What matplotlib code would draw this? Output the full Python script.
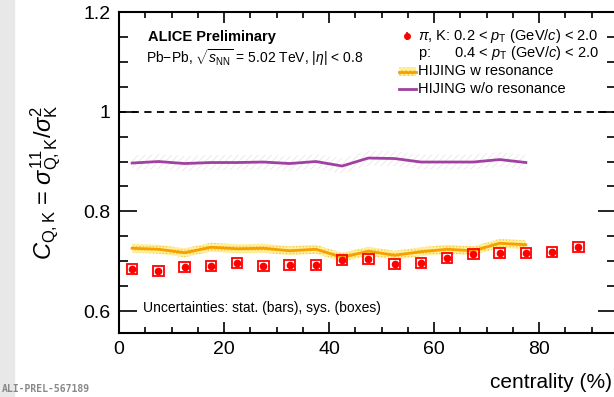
import numpy as np
import matplotlib
matplotlib.use("Agg")
import matplotlib.pyplot as plt
from matplotlib.patches import Rectangle

plt.rcParams['font.family'] = ['Liberation Sans', 'DejaVu Sans']
plt.rcParams['mathtext.fontset'] = 'custom'
plt.rcParams['mathtext.rm'] = 'Liberation Sans'
plt.rcParams['mathtext.it'] = 'Liberation Sans:italic'
plt.rcParams['mathtext.bf'] = 'Liberation Sans:bold'
plt.rcParams['hatch.linewidth'] = 0.6

# data
cent = [2.5, 7.5, 12.5, 17.5, 22.5, 27.5, 32.5, 37.5, 42.5, 47.5,
        52.5, 57.5, 62.5, 67.5, 72.5, 77.5, 82.5, 87.5]
c_data = [0.684, 0.681, 0.689, 0.690, 0.697, 0.691, 0.692, 0.692, 0.702, 0.704,
          0.694, 0.696, 0.706, 0.714, 0.716, 0.717, 0.718, 0.729]
c_stat = [0.004] * 18
c_sys = [0.010] * 18

hij_cent = [2.5, 7.5, 12.5, 17.5, 22.5, 27.5, 32.5, 37.5,
            42.5, 47.5, 52.5, 57.5, 62.5, 67.5, 72.5, 77.5]
hij_res = [0.726, 0.724, 0.717, 0.728, 0.725, 0.726, 0.721, 0.724,
           0.708, 0.720, 0.712, 0.719, 0.724, 0.721, 0.736, 0.733]
hij_res_err = [0.009] * 16
hij_nores = [0.897, 0.900, 0.896, 0.898, 0.898, 0.899, 0.896, 0.900,
             0.891, 0.907, 0.906, 0.899, 0.899, 0.899, 0.904, 0.898]
hij_nores_err = [0.015] * 16

W, H = 614, 397
fig = plt.figure(figsize=(W / 100, H / 100), dpi=100)
ax = fig.add_axes([119 / W, 1 - 333 / H, 497 / W, 321 / H])

def fx(px):
    return px / W

def fy(py):
    return 1 - py / H

# grey shadow strip on the left edge
fig.patches.append(Rectangle((0, 0), 14 / W, 1, transform=fig.transFigure,
                             color='#e8e8e8', zorder=0))

hc = np.array(hij_cent)
hr = np.array(hij_res)
he = np.array(hij_res_err)
hn = np.array(hij_nores)
hne = np.array(hij_nores_err)

ax.fill_between(hc, hn - hne, hn + hne, facecolor='none', edgecolor='#ede4ea',
                hatch='/////', linewidth=0, zorder=1)
ax.plot(hc, hn, color='#a040a0', lw=2, zorder=2)

ax.fill_between(hc, hr - he, hr + he, facecolor='#fff0a0', edgecolor='#f5c842',
                hatch='.....', linewidth=0, zorder=1)
ax.plot(hc, hr, color='#f5a000', lw=2, zorder=2)

ax.axhline(1.0, color='black', ls=(0, (4, 3)), lw=1.3, zorder=1)

for x, y, s in zip(cent, c_data, c_sys):
    ax.add_patch(Rectangle((x - 1.0, y - s), 2.0, 2 * s, facecolor='none',
                           edgecolor='#ff0000', lw=1.3, zorder=3))
ax.errorbar(cent, c_data, yerr=c_stat, fmt='o', color='#ff0000', ms=4.5,
            elinewidth=1, capsize=0, zorder=4)

ax.set_xlim(0, 497 / 5.25)
ax.set_ylim(0.556, 1.2)
ax.set_xticks([0, 20, 40, 60, 80])
ax.set_xticks(np.arange(0, 95, 5), minor=True)
ax.set_yticks([0.6, 0.8, 1.0, 1.2])
ax.set_yticklabels(['0.6', '0.8', '1', '1.2'])
ax.set_yticks(np.arange(0.6, 1.201, 0.05), minor=True)
ax.tick_params(which='both', direction='in', top=True, right=True,
               labelsize=14, width=1.2, pad=6)
ax.tick_params(axis='x', which='major', length=8)
ax.tick_params(axis='x', which='minor', length=4.5)
ax.tick_params(axis='y', which='major', length=13)
ax.tick_params(axis='y', which='minor', length=6.5)
for sp in ax.spines.values():
    sp.set_linewidth(1.5)
ax.spines['right'].set_visible(False)

fig.text(fx(46), fy(182),
         r'$C_{\rm Q,K}$ = $\sigma^{11}_{\rm Q,K}/\sigma^{2}_{\rm K}$',
         rotation=90, fontsize=17, ha='center', va='center')
fig.text(fx(612), fy(383), 'centrality (%)', fontsize=15, ha='right', va='center')

fig.text(fx(148), fy(37), 'ALICE Preliminary', fontsize=10.5,
         fontweight='bold', va='center')
fig.text(fx(146), fy(58),
         r'Pb$-$Pb, $\sqrt{s_{\rm NN}}$ = 5.02 TeV, |$\eta$| < 0.8',
         fontsize=10, va='center')
fig.text(fx(143), fy(308), 'Uncertainties: stat. (bars), sys. (boxes)',
         fontsize=10, va='center')

# legend drawn by hand
lax = fig.add_axes([0, 0, 1, 1], facecolor='none')
lax.set_xlim(0, W)
lax.set_ylim(H, 0)
lax.axis('off')
lax.errorbar([407], [36], yerr=[4], fmt='o', color='#ff0000', ms=4,
             elinewidth=1.2, capsize=0)
lax.add_patch(Rectangle((399, 67), 17, 9, facecolor='#fff0a0',
                        edgecolor='#f5c842', hatch='....', lw=0))
lax.plot([399, 416], [71.5, 71.5], color='#f5a000', lw=2)
lax.plot([399, 416], [89, 89], color='#a040a0', lw=2)
lax.text(418, 36, r'$\pi$, K: 0.2 < $p_{\rm T}$ (GeV/$c$) < 2.0',
         fontsize=10.5, va='center')
lax.text(418, 53, r'p:      0.4 < $p_{\rm T}$ (GeV/$c$) < 2.0',
         fontsize=10.5, va='center')
lax.text(418, 71, 'HIJING w resonance', fontsize=10.5, va='center')
lax.text(418, 89, 'HIJING w/o resonance', fontsize=10.5, va='center')

fig.text(fx(2), fy(389), 'ALI-PREL-567189', fontsize=7, color='#888888',
         family='DejaVu Sans Mono', fontweight='bold', va='center')

fig.savefig('out.png', dpi=100)
